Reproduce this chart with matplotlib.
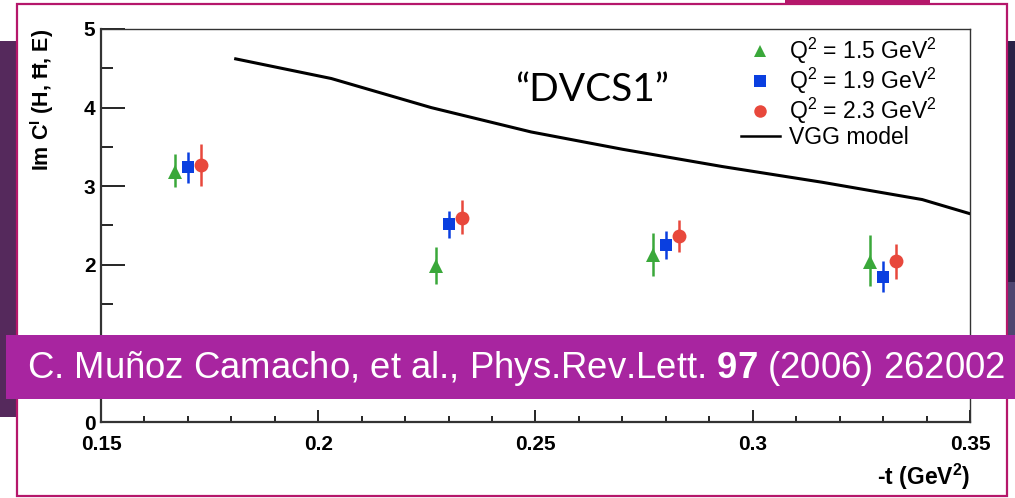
import numpy as np
import matplotlib
matplotlib.use('Agg')
import matplotlib.pyplot as plt
from matplotlib.patches import Rectangle
from matplotlib.ticker import MultipleLocator

plt.rcParams['font.family'] = ['Liberation Sans', 'DejaVu Sans']
plt.rcParams['mathtext.fontset'] = 'custom'
plt.rcParams['mathtext.rm'] = 'Liberation Sans'
plt.rcParams['mathtext.it'] = 'Liberation Sans'
plt.rcParams['mathtext.bf'] = 'Liberation Sans:bold'

# data
t_q15 = [0.167, 0.227, 0.277, 0.327]
y_q15 = [3.18, 1.98, 2.12, 2.04]
hi_q15 = [3.41, 2.23, 2.40, 2.38]
lo_q15 = [2.99, 1.75, 1.86, 1.73]

t_q19 = [0.170, 0.230, 0.280, 0.330]
y_q19 = [3.24, 2.52, 2.25, 1.85]
hi_q19 = [3.43, 2.69, 2.43, 2.05]
lo_q19 = [3.04, 2.34, 2.07, 1.65]

t_q23 = [0.173, 0.233, 0.283, 0.333]
y_q23 = [3.27, 2.60, 2.37, 2.05]
hi_q23 = [3.54, 2.82, 2.57, 2.26]
lo_q23 = [3.00, 2.39, 2.16, 1.82]

t_vgg = [0.181, 0.203, 0.226, 0.249, 0.270, 0.293, 0.316, 0.339, 0.350]
y_vgg = [4.62, 4.37, 4.00, 3.69, 3.47, 3.25, 3.05, 2.83, 2.65]

labels = ['Q$^2$ = 1.5 GeV$^2$', 'Q$^2$ = 1.9 GeV$^2$', 'Q$^2$ = 2.3 GeV$^2$', 'VGG model']
xticks = [0.15, 0.2, 0.25, 0.3, 0.35]
xtick_labels = ['0.15', '0.2', '0.25', '0.3', '0.35']
yticks = [0, 1, 2, 3, 4, 5]
ytick_labels = ['0', '', '2', '3', '4', '5']   # "1" sits under the banner

W, H = 1015, 498
fig = plt.figure(figsize=(W / 100, H / 100), dpi=100)
fig.patch.set_facecolor('white')


def box(x0, y0, x1, y1, **kw):
    # rectangle in figure pixels (y from top)
    r = Rectangle((x0 / W, 1 - y1 / H), (x1 - x0) / W, (y1 - y0) / H,
                  transform=fig.transFigure, **kw)
    fig.add_artist(r)
    return r


# slide background pieces
box(0, 41, 17, 417, facecolor='#55295c', edgecolor='none', zorder=0)
box(1007, 41, 1015, 282, facecolor='#2a2146', edgecolor='none', zorder=0)
box(1007, 282, 1015, 336, facecolor='#4f4570', edgecolor='none', zorder=0)
box(785, 0, 930, 5, facecolor='#b5176b', edgecolor='none', zorder=0)
box(16.5, 4.5, 1006.5, 495.5, facecolor='white', edgecolor='#b5176b', lw=1.6, zorder=0.5)

ax = fig.add_axes([101 / W, 1 - 422 / H, 869 / W, 393 / H])
ax.set_zorder(1)
ax.patch.set_alpha(0)

green = '#3aa83a'
blue = '#0a3fe0'
red = '#e8483c'

series = [
    (t_q15, y_q15, hi_q15, lo_q15, green, '^', 10),
    (t_q19, y_q19, hi_q19, lo_q19, blue, 's', 9),
    (t_q23, y_q23, hi_q23, lo_q23, red, 'o', 10),
]
for t, y, hi, lo, c, m, ms in series:
    y = np.array(y)
    yerr = [y - np.array(lo), np.array(hi) - y]
    ax.errorbar(t, y, yerr=yerr, fmt=m, color=c, ms=ms, elinewidth=1.8,
                capsize=3, capthick=2, mew=0, zorder=3)

ax.plot(t_vgg, y_vgg, color='black', lw=2.2, zorder=2)

# legend
h1 = ax.plot([], [], '^', color=green, ms=9, mew=0)[0]
h2 = ax.plot([], [], 's', color=blue, ms=8, mew=0)[0]
h3 = ax.plot([], [], 'o', color=red, ms=9, mew=0)[0]
h4 = ax.plot([], [], '-', color='black', lw=1.8)[0]
ax.legend([h1, h2, h3, h4], labels, loc='upper left', bbox_to_anchor=(0.718, 1.024),
          frameon=False, fontsize=16.5, labelspacing=0.0, handlelength=1.7,
          handletextpad=0.4, borderpad=0.2)

ax.text(0.565, 0.845, '\u201cDVCS1\u201d', transform=ax.transAxes, fontsize=28,
        family=['Lato', 'DejaVu Sans'], ha='center', va='center',
        color='black')

ax.set_xlim(0.15, 0.35)
ax.set_ylim(0, 5)
ax.xaxis.set_minor_locator(MultipleLocator(0.01))
ax.yaxis.set_minor_locator(MultipleLocator(0.5))
ax.set_xticks(xticks)
ax.set_xticklabels(xtick_labels)
ax.set_yticks(yticks)
ax.set_yticklabels(ytick_labels)

ax.tick_params(axis='y', which='major', direction='in', length=17, width=1.2, pad=4,
               labelsize=15)
ax.tick_params(axis='y', which='minor', direction='in', length=8.5, width=1.2)
ax.tick_params(axis='x', which='major', direction='in', length=8.5, width=1.2, pad=9,
               labelsize=15)
ax.tick_params(axis='x', which='minor', direction='in', length=4.3, width=1.2)
for lab in ax.get_xticklabels() + ax.get_yticklabels():
    lab.set_fontweight('bold')

for s in ax.spines.values():
    s.set_color('#333333')
    s.set_linewidth(1.0)
ax.spines['bottom'].set_linewidth(1.6)
ax.spines['left'].set_linewidth(1.6)

ax.set_ylabel('Im C$^{\\mathbf{I}}$ (H, \u0126, E)',
              fontsize=15.5, fontweight='bold', loc='top', labelpad=20)
ax.set_xlabel(r'-t (GeV$^{\mathbf{2}}$)', fontsize=16.5, fontweight='bold', loc='right',
              labelpad=6)

# citation banner
box(6, 335, 1015, 399, facecolor='#a825a0', edgecolor='none', zorder=5)
fig.text(27 / W, 1 - 368 / H,
         r'C. Muñoz Camacho, et al., Phys.Rev.Lett. $\mathbf{97}$ (2006) 262002',
         fontsize=26.3, color='white', ha='left', va='center', zorder=6)

fig.savefig('out.png', dpi=100)
